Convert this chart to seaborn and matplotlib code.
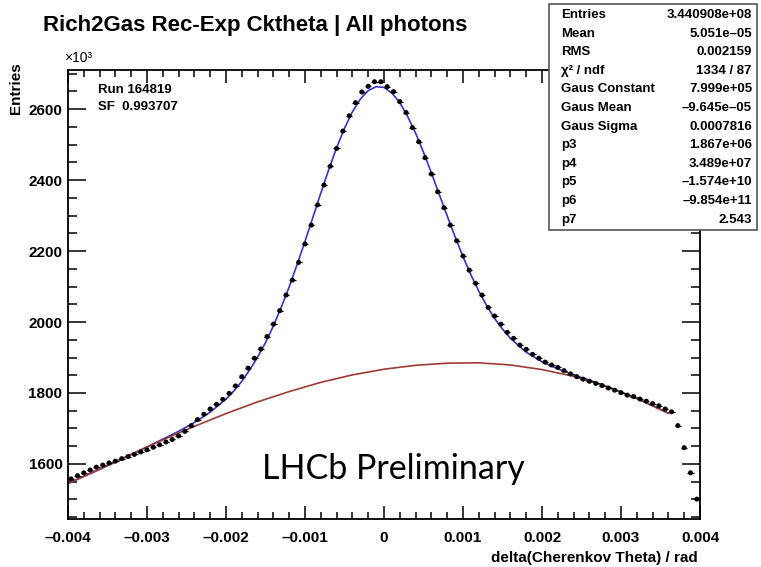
import numpy as np
import pandas as pd
import matplotlib
matplotlib.use("Agg")
import matplotlib.pyplot as plt
import seaborn as sns
from matplotlib.patches import Rectangle
from matplotlib.ticker import MultipleLocator, FuncFormatter

# histogram: 100 bins over [-0.004, 0.004], entries in units of 10^3
x_min, x_max, n_bins = -0.004, 0.004, 100
counts = [
    1558, 1567, 1575, 1583, 1591, 1597, 1603, 1608, 1615, 1621,
    1627, 1634, 1640, 1647, 1654, 1662, 1669, 1679, 1692, 1708,
    1725, 1740, 1755, 1768, 1782, 1799, 1820, 1846, 1870, 1898,
    1924, 1959, 1994, 2032, 2076, 2118, 2168, 2220, 2273, 2330,
    2386, 2439, 2489, 2538, 2581, 2618, 2648, 2664, 2677, 2677,
    2663, 2649, 2621, 2590, 2548, 2508, 2463, 2417, 2367, 2322,
    2273, 2229, 2186, 2146, 2109, 2076, 2041, 2017, 1994, 1971,
    1954, 1935, 1923, 1909, 1898, 1887, 1879, 1872, 1863, 1854,
    1846, 1839, 1833, 1827, 1821, 1814, 1808, 1801, 1794, 1790,
    1783, 1777, 1770, 1764, 1755, 1747, 1708, 1646, 1575, 1501,
]

# total fit (gaus + background); x in 1e-3 rad
fit_x = [-4.0, -3.6, -3.2, -3.0, -2.8, -2.6, -2.4, -2.2, -2.0, -1.9,
         -1.8, -1.7, -1.6, -1.5, -1.4, -1.3, -1.2, -1.1, -1.0, -0.9,
         -0.8, -0.7, -0.6, -0.5, -0.4, -0.3, -0.2, -0.1, 0.0, 0.1,
         0.2, 0.3, 0.4, 0.5, 0.6, 0.7, 0.8, 0.9, 1.0, 1.1,
         1.2, 1.3, 1.4, 1.5, 1.6, 1.8, 2.0, 2.2, 2.4, 2.6,
         2.8, 3.2, 3.6]
fit_y = [1545, 1585, 1627, 1648, 1670, 1692, 1717, 1746, 1783, 1806,
         1833, 1865, 1901, 1942, 1989, 2042, 2099, 2162, 2227, 2295,
         2363, 2429, 2491, 2546, 2592, 2628, 2652, 2663, 2661, 2645,
         2618, 2579, 2532, 2478, 2420, 2359, 2299, 2240, 2184, 2133,
         2087, 2046, 2010, 1980, 1954, 1915, 1888, 1868, 1851, 1836,
         1820, 1785, 1743]

# background part of the fit
bkg_x = [-4.0, -3.6, -3.2, -2.8, -2.4, -2.0, -1.6, -1.2, -0.8, -0.4,
         0.0, 0.4, 0.8, 1.2, 1.6, 2.0, 2.4, 2.8, 3.2, 3.6]
bkg_y = [1545, 1585, 1627, 1668, 1706, 1742, 1775, 1804, 1830, 1851,
         1867, 1878, 1884, 1885, 1879, 1866, 1847, 1820, 1785, 1743]

stat_labels = ["Entries", "Mean", "RMS", "χ² / ndf", "Gaus Constant",
               "Gaus Mean", "Gaus Sigma", "p3", "p4", "p5", "p6", "p7"]
stat_values = ["3.440908e+08", "5.051e–05", "0.002159", "1334 / 87",
               "7.999e+05", "–9.645e–05", "0.0007816", "1.867e+06",
               "3.489e+07", "–1.574e+10", "–9.854e+11", "2.543"]

title = "Rich2Gas Rec-Exp Cktheta | All photons"
run_info = ["Run 164819", "SF  0.993707"]

sns.set_style("ticks")
plt.rcParams["font.family"] = ["Liberation Sans", "DejaVu Sans"]
for key in ["text.color", "axes.labelcolor", "xtick.color", "ytick.color",
            "axes.edgecolor"]:
    plt.rcParams[key] = "black"

W, H = 761, 567
fig = plt.figure(figsize=(W / 100, H / 100), dpi=100)
ax = fig.add_axes([68 / W, 1 - 519 / H, (700 - 68) / W, (519 - 70) / H])

edges = np.linspace(x_min, x_max, n_bins + 1)
df = pd.DataFrame({"x": (edges[:-1] + edges[1:]) / 2, "entries": counts})
fit = pd.DataFrame({"x": np.array(fit_x) * 1e-3, "y": fit_y})
bkg = pd.DataFrame({"x": np.array(bkg_x) * 1e-3, "y": bkg_y})

sns.lineplot(data=fit, x="x", y="y", ax=ax, color="#3535c8", lw=1.2)
sns.lineplot(data=bkg, x="x", y="y", ax=ax, color="#a03a35", lw=1.2)
half_w = (x_max - x_min) / n_bins / 2
ax.errorbar(df["x"], df["entries"], xerr=half_w, fmt="none",
            ecolor="black", elinewidth=0.9, zorder=4)
sns.scatterplot(data=df, x="x", y="entries", ax=ax, color="black", s=13,
                edgecolor="none", zorder=5)

ax.set_xlim(x_min, x_max)
ax.set_ylim(1445, 2710)
ax.set_xlabel("")
ax.set_ylabel("")
ax.xaxis.set_major_locator(MultipleLocator(0.001))
ax.xaxis.set_minor_locator(MultipleLocator(0.0002))
ax.yaxis.set_major_locator(MultipleLocator(200))
ax.yaxis.set_minor_locator(MultipleLocator(50))
ax.xaxis.set_major_formatter(FuncFormatter(
    lambda v, _: "0" if abs(v) < 1e-9 else f"{v:.3f}".replace("-", "–")))
ax.yaxis.set_major_formatter(FuncFormatter(lambda v, _: f"{v:.0f}"))
ax.tick_params(which="both", direction="in", top=True, right=True, width=1.1,
               color="black", labelcolor="black")
ax.tick_params(axis="x", which="major", length=9.5, pad=8.5, labelsize=11)
ax.tick_params(axis="x", which="minor", length=5)
ax.tick_params(axis="y", which="major", length=13, pad=4, labelsize=11)
ax.tick_params(axis="y", which="minor", length=6.5)
for lab in ax.get_xticklabels() + ax.get_yticklabels():
    lab.set_fontweight("bold")
for sp in ax.spines.values():
    sp.set_linewidth(1.3)
    sp.set_color("black")

fig.text(43 / W, 1 - 31 / H, title, fontsize=16, fontweight="bold",
         va="baseline", ha="left")
fig.text(64 / W, 1 - 62 / H, "×10³", fontsize=10, va="baseline", ha="left")
fig.text(16 / W, 1 - 62 / H, "Entries", fontsize=11, fontweight="bold",
         rotation=90, va="top", ha="center")
fig.text(698 / W, 1 - 558 / H, "delta(Cherenkov Theta) / rad", fontsize=11,
         fontweight="bold", va="center", ha="right")
for i, line in enumerate(run_info):
    fig.text(98 / W, 1 - (90 + 17 * i) / H, line, fontsize=9.5,
             fontweight="bold", va="center", ha="left")
fig.text(393 / W, 1 - 469 / H, "LHCb Preliminary", fontsize=24.5,
         family="Lato", va="center", ha="center")

# stats box drawn on top of the frame
fig.add_artist(Rectangle((549 / W, 1 - 230 / H), 208 / W, 226 / H,
                         transform=fig.transFigure, facecolor="white",
                         edgecolor="#555555", lw=1.2, zorder=10))
for i, (lab, val) in enumerate(zip(stat_labels, stat_values)):
    yy = 1 - (15 + 18.6 * i) / H
    fig.text(561 / W, yy, lab, fontsize=9.5, fontweight="bold",
             va="center", ha="left", zorder=11)
    fig.text(752 / W, yy, val, fontsize=9.5, fontweight="bold",
             va="center", ha="right", zorder=11)

fig.savefig("out.png", dpi=100)
